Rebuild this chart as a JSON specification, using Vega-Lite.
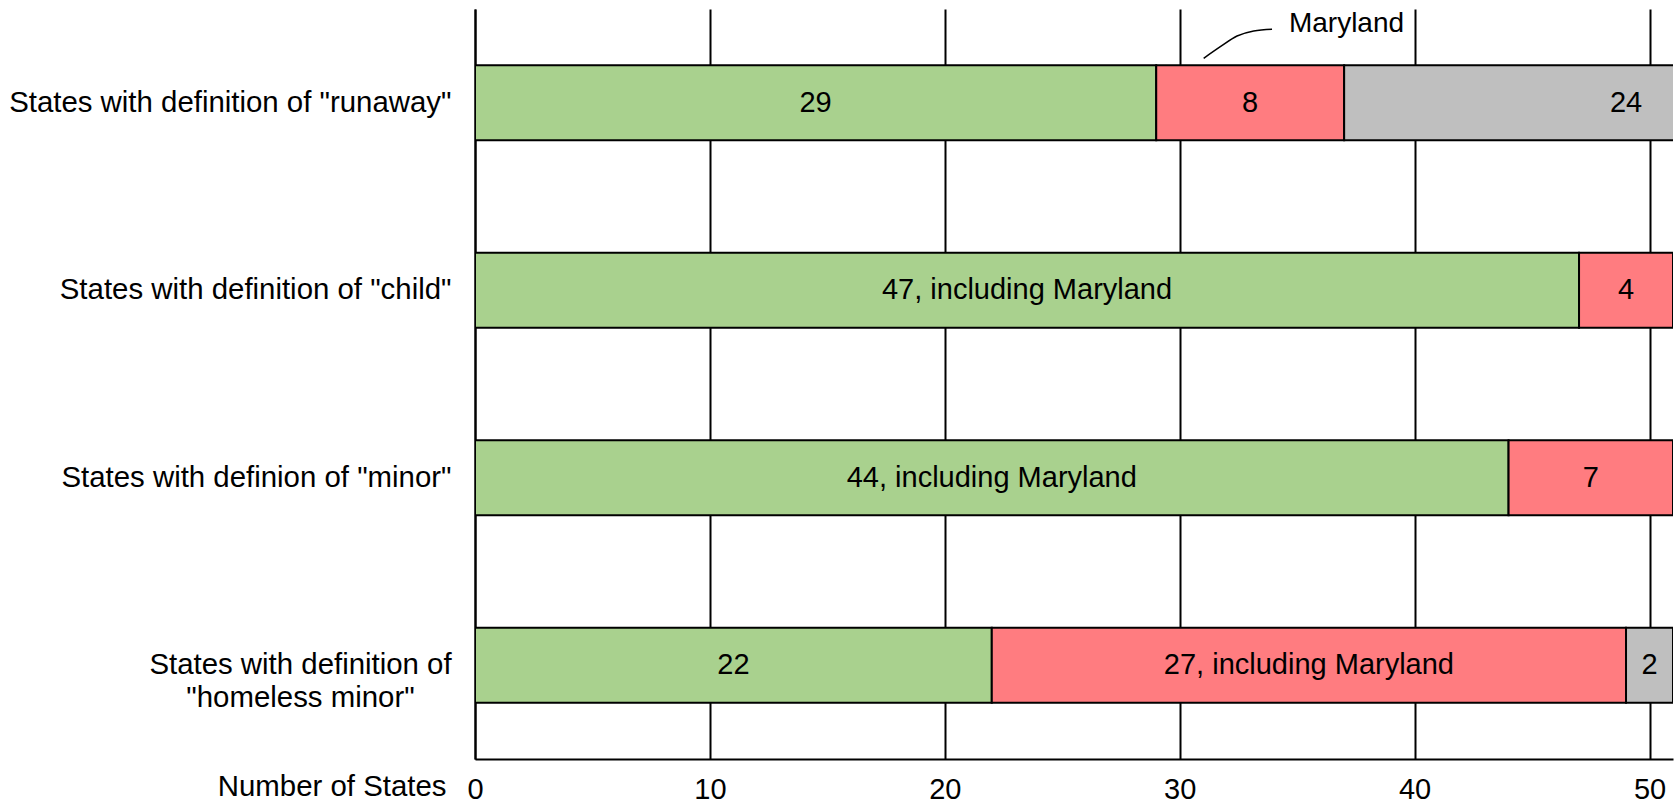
{
  "$schema": "https://vega.github.io/schema/vega-lite/v6.json",
  "width": 1198,
  "height": 750,
  "autosize": {"type": "none"},
  "padding": {"left": 475, "top": 9, "right": 7, "bottom": 47},
  "background": "white",
  "config": {"font": "Liberation Sans", "view": {"stroke": null}},
  "layer": [
    {
      "data": {
        "values": [
          {"definition": "States with definition of \"runaway\"", "group": "Defined", "order": 1, "value": 29, "label": "29"},
          {"definition": "States with definition of \"runaway\"", "group": "Not defined", "order": 2, "value": 8, "label": "8"},
          {"definition": "States with definition of \"runaway\"", "group": "Other", "order": 3, "value": 24, "label": "24"},
          {"definition": "States with definition of \"child\"", "group": "Defined", "order": 1, "value": 47, "label": "47, including Maryland"},
          {"definition": "States with definition of \"child\"", "group": "Not defined", "order": 2, "value": 4, "label": "4"},
          {"definition": "States with definion of \"minor\"", "group": "Defined", "order": 1, "value": 44, "label": "44, including Maryland"},
          {"definition": "States with definion of \"minor\"", "group": "Not defined", "order": 2, "value": 7, "label": "7"},
          {"definition": "States with definition of|\"homeless minor\"", "group": "Defined", "order": 1, "value": 22, "label": "22"},
          {"definition": "States with definition of|\"homeless minor\"", "group": "Not defined", "order": 2, "value": 27, "label": "27, including Maryland"},
          {"definition": "States with definition of|\"homeless minor\"", "group": "Other", "order": 3, "value": 2, "label": "2"}
        ]
      },
      "layer": [
        {
          "mark": {"type": "bar", "height": {"band": 0.4}, "stroke": "black", "strokeWidth": 2, "clip": true},
          "encoding": {
            "y": {
              "field": "definition",
              "type": "nominal",
              "sort": ["States with definition of \"runaway\"", "States with definition of \"child\"", "States with definion of \"minor\"", "States with definition of|\"homeless minor\""],
              "scale": {"paddingInner": 0, "paddingOuter": 0},
              "axis": {
                "title": null,
                "ticks": false,
                "grid": false,
                "domain": true,
                "domainColor": "black",
                "domainWidth": 2,
                "labelFontSize": 29.4,
                "labelColor": "black",
                "labelLimit": 0,
                "labelLineHeight": 33,
                "labelBaseline": "middle",
                "labelExpr": "split(datum.label, '|')",
                "labelAlign": {"condition": {"test": "indexof(datum.value, '|') >= 0", "value": "center"}, "value": "right"},
                "labelPadding": {"condition": {"test": "indexof(datum.value, '|') >= 0", "value": 175}, "value": 24}
              }
            },
            "x": {
              "field": "value",
              "type": "quantitative",
              "stack": "zero",
              "title": "Number of States",
              "scale": {"domain": [0, 51], "nice": false, "zero": true},
              "axis": {
                "values": [0, 10, 20, 30, 40, 50],
                "grid": true,
                "gridColor": "black",
                "gridWidth": 2,
                "gridOpacity": 1,
                "ticks": false,
                "domain": true,
                "domainColor": "black",
                "domainWidth": 2,
                "labelFontSize": 29,
                "labelColor": "black",
                "labelPadding": 16,
                "labelFlush": false,
                "labelOverlap": false,
                "labelBaseline": "top",
                "title": "Number of States",
                "titleFontSize": 29.4,
                "titleFontWeight": "normal",
                "titleColor": "black",
                "titleAlign": "right",
                "titleBaseline": "alphabetic",
                "titleX": -29,
                "titleY": 36
              }
            },
            "color": {
              "field": "group",
              "type": "nominal",
              "scale": {"domain": ["Defined", "Not defined", "Other"], "range": ["#a9d18e", "#ff7c80", "#bfbfbf"]},
              "legend": null
            },
            "order": {"field": "order", "type": "quantitative"}
          }
        },
        {
          "mark": {"type": "text", "fontSize": 29, "color": "black", "baseline": "middle", "align": "center", "clip": true},
          "encoding": {
            "y": {
              "field": "definition",
              "type": "nominal",
              "sort": ["States with definition of \"runaway\"", "States with definition of \"child\"", "States with definion of \"minor\"", "States with definition of|\"homeless minor\""]
            },
            "x": {
              "field": "value",
              "type": "quantitative",
              "stack": "zero",
              "bandPosition": 0.5,
              "title": "Number of States",
              "scale": {"domain": [0, 51], "nice": false, "zero": true}
            },
            "detail": {"field": "group", "type": "nominal"},
            "order": {"field": "order", "type": "quantitative"},
            "text": {"field": "label", "type": "nominal"}
          }
        }
      ]
    },
    {
      "data": {
        "values": [
          {"x": 31.02, "row": -0.237},
          {"x": 31.73, "row": -0.299},
          {"x": 32.44, "row": -0.356},
          {"x": 33.15, "row": -0.383},
          {"x": 33.93, "row": -0.392}
        ]
      },
      "mark": {"type": "line", "interpolate": "monotone", "stroke": "black", "strokeWidth": 1.5},
      "encoding": {
        "x": {"field": "x", "type": "quantitative", "title": "Number of States", "scale": {"domain": [0, 51], "nice": false, "zero": true}},
        "y": {"field": "row", "type": "quantitative", "scale": {"domain": [-0.5, 3.5], "reverse": true, "nice": false, "zero": false}, "axis": null}
      }
    },
    {
      "data": {"values": [{"x": 37.1, "row": -0.375, "text": "Maryland"}]},
      "mark": {"type": "text", "fontSize": 28, "color": "black", "baseline": "alphabetic", "align": "center"},
      "encoding": {
        "x": {"field": "x", "type": "quantitative", "title": "Number of States", "scale": {"domain": [0, 51], "nice": false, "zero": true}},
        "y": {"field": "row", "type": "quantitative", "scale": {"domain": [-0.5, 3.5], "reverse": true, "nice": false, "zero": false}, "axis": null},
        "text": {"field": "text", "type": "nominal"}
      }
    }
  ],
  "resolve": {"scale": {"y": "independent"}}
}
